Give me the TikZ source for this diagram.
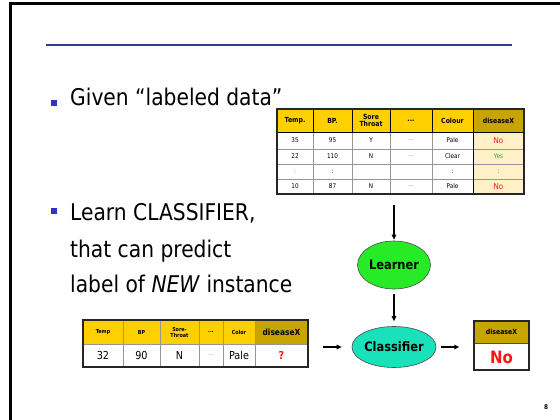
\documentclass[tikz,border=0pt]{standalone}
\usepackage{fontspec}
\setmainfont[FakeStretch=0.88]{DejaVu Sans}
\usetikzlibrary{arrows.meta,shapes.geometric}
\definecolor{hdr}{RGB}{255,208,0}
\definecolor{hdrdark}{RGB}{200,164,0}
\definecolor{cream}{RGB}{255,240,200}
\definecolor{slideblue}{RGB}{50,60,150}
\definecolor{bulletblue}{RGB}{50,50,200}
\definecolor{learnergreen}{RGB}{40,235,40}
\definecolor{classteal}{RGB}{25,225,185}
\definecolor{nored}{RGB}{255,20,20}
\definecolor{yesgreen}{RGB}{40,170,40}
\definecolor{gridgray}{RGB}{150,150,150}
\tikzset{
  bigtext/.style={anchor=base west,inner sep=0pt,font=\fontsize{23}{27}\selectfont},
  thead/.style={inner sep=0pt,align=center,font=\bfseries\fontsize{7}{7.5}\selectfont},
  tcell/.style={inner sep=0pt,font=\fontsize{6.5}{7}\selectfont},
  bhead/.style={inner sep=0pt,align=center,font=\bfseries\fontsize{5.5}{6}\selectfont},
  bcell/.style={inner sep=0pt,font=\fontsize{11}{12}\selectfont},
  oval/.style={ellipse,draw=black!70,line width=0.6pt,inner sep=0pt,font=\bfseries\fontsize{13}{14}\selectfont},
  arr/.style={-{Triangle[length=5pt,width=4.5pt]},line width=1.1pt},
  grid/.style={gridgray,line width=0.5pt},
  border/.style={black!85,line width=1.4pt}
}
\begin{document}
\begin{tikzpicture}[x=1pt,y=-1pt]
\useasboundingbox (0,0) rectangle (560,420);
\fill[white] (0,0) rectangle (560,420);
% frame
\draw[line width=3pt] (10,420) -- (10,4) -- (560,4);
\draw[slideblue,line width=1.5pt] (46,45) -- (512,45);
% bullets and text
\fill[bulletblue] (51,100) rectangle (57,106);
\fill[bulletblue] (51,208) rectangle (57,214);
\node[bigtext] (t1) at (70,106) {Given “labeled data”};
\node[bigtext] (t2) at (70,220) {Learn CLASSIFIER,};
\node[bigtext] (t3) at (70,257) {that can predict};
\node[bigtext] (t4) at (70,292) {label of \textit{NEW} instance};
% top table
\fill[hdr] (277,109) rectangle (473,132);
\fill[hdrdark] (473,109) rectangle (524,132);
\fill[cream] (473,132) rectangle (524,194);
\foreach \yy in {149,164,179} \draw[grid] (277,\yy) -- (524,\yy);
\foreach \xx in {313,352,390,432,473} \draw[grid] (\xx,132) -- (\xx,194);
\foreach \xx in {313,352,390,432,473} \draw[black,line width=0.8pt] (\xx,109) -- (\xx,132);
\draw[black,line width=0.8pt] (277,132) -- (524,132);
\draw[black,line width=0.8pt] (473,109) -- (473,194);
\node[border,draw,rectangle,minimum width=247pt,minimum height=85pt,inner sep=0pt] (toptab) at (400.5,151.5) {};
\node[thead] at (295,120.5) {Temp.};
\node[thead] at (332.5,120.5) {BP.};
\node[thead] at (371,120.5) {Sore\\[-1pt]Throat};
\node[thead] at (411,120.5) {...};
\node[thead] at (452.5,120.5) {Colour};
\node[thead] at (498.5,120.5) {diseaseX};
\node[tcell] at (295,140.5) {35};
\node[tcell] at (332.5,140.5) {95};
\node[tcell] at (371,140.5) {Y};
\node[tcell,gray] at (411,140.5) {...};
\node[tcell] at (452.5,140.5) {Pale};
\node[tcell,nored,font=\fontsize{8}{9}\selectfont] at (498.5,140.5) {No};
\node[tcell] at (295,156.5) {22};
\node[tcell] at (332.5,156.5) {110};
\node[tcell] at (371,156.5) {N};
\node[tcell,gray] at (411,156.5) {...};
\node[tcell] at (452.5,156.5) {Clear};
\node[tcell,yesgreen] at (498.5,156.5) {Yes};
\node[tcell,gray] at (295,171.5) {:};
\node[tcell] at (332.5,171.5) {:};
\node[tcell] at (452.5,171.5) {:};
\node[tcell,gray] at (498.5,171.5) {:};
\node[tcell] at (295,186.5) {10};
\node[tcell] at (332.5,186.5) {87};
\node[tcell] at (371,186.5) {N};
\node[tcell,gray] at (411,186.5) {...};
\node[tcell] at (452.5,186.5) {Pale};
\node[tcell,nored,font=\fontsize{8}{9}\selectfont] at (498.5,186.5) {No};
% bottom table
\fill[hdr] (83,320) rectangle (255,344);
\fill[hdrdark] (255,320) rectangle (308,344);
\foreach \xx in {123,160,199,223,255} \draw[grid] (\xx,320) -- (\xx,367);
\draw[grid] (83,344) -- (308,344);
\node[border,draw,rectangle,minimum width=225pt,minimum height=47pt,inner sep=0pt] (bottab) at (195.5,343.5) {};
\node[bhead] at (103,332) {Temp};
\node[bhead] at (141.5,332) {BP};
\node[bhead] at (179.5,332) {Sore-\\[0pt]Throat};
\node[bhead] at (211,332) {...};
\node[bhead] at (239,332) {Color};
\node[bhead,font=\bfseries\fontsize{8.5}{9}\selectfont] at (281.5,332) {diseaseX};
\node[bcell] at (103,355.5) {32};
\node[bcell] at (141.5,355.5) {90};
\node[bcell] at (179.5,355.5) {N};
\node[bcell,gray,font=\fontsize{6}{7}\selectfont] at (211,355.5) {...};
\node[bcell] at (239,355.5) {Pale};
\node[bcell,nored,font=\bfseries\fontsize{11}{12}\selectfont] at (281.5,355.5) {?};
% ovals
\node[oval,fill=learnergreen,minimum width=73pt,minimum height=48pt] (learner) at (394,265) {Learner};
\node[oval,fill=classteal,minimum width=63pt,minimum height=41pt] (classifier) at (394,347) {Classifier};
% result box
\fill[hdrdark] (474,321) rectangle (529,343);
\draw[black!70,line width=0.8pt] (474,343) -- (529,343);
\node[border,draw,rectangle,minimum width=55pt,minimum height=49pt,inner sep=0pt] (result) at (501.5,345.5) {};
\node[inner sep=0pt,font=\bfseries\fontsize{7}{8}\selectfont] at (501.5,332) {diseaseX};
\node[inner sep=0pt,nored,font=\bfseries\fontsize{17}{18}\selectfont] at (501.5,357) {No};
% arrows
\coordinate (tin) at (394,205);
\draw[arr,shorten >=1pt] (tin) -- (learner);
\draw[arr,shorten <=5pt,shorten >=5pt] (learner) -- (classifier);
\draw[arr,shorten <=14pt,shorten >=10pt] (bottab.east |- classifier) -- (classifier.west);
\draw[arr,shorten <=5pt,shorten >=14pt] (classifier.east) -- (result.west |- classifier);
% page number
\node[inner sep=0pt,font=\bfseries\fontsize{6.5}{7}\selectfont] at (546,407) {8};
\end{tikzpicture}
\end{document}
